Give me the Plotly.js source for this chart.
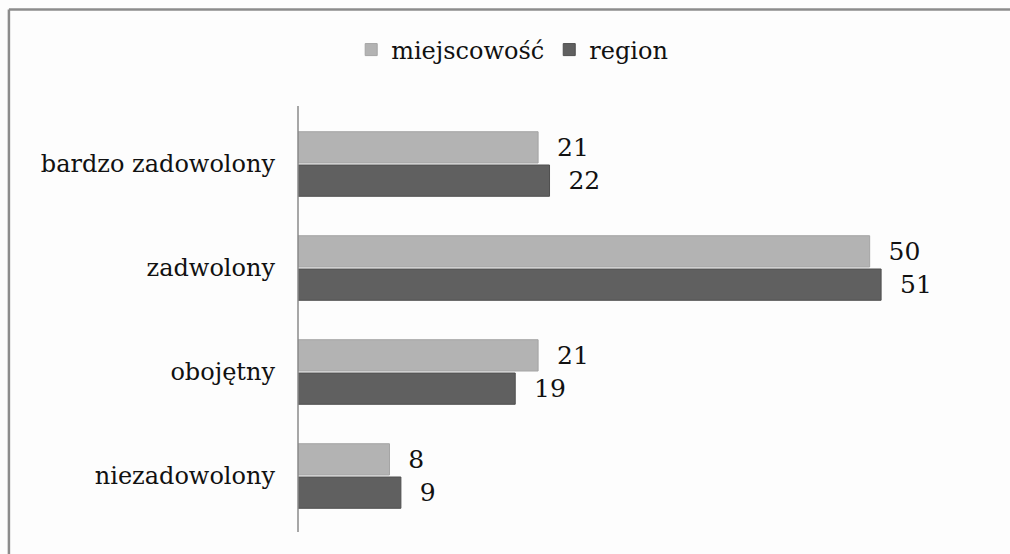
<!DOCTYPE html>
<html>
<head>
<meta charset="utf-8">
<script src="https://cdn.plot.ly/plotly-3.0.1.min.js"></script>
<style>
  html, body { margin: 0; padding: 0; background: #fdfdfd; }
  #chart { width: 1010px; height: 554px; }
</style>
</head>
<body>
<div id="chart"></div>
<script>
const categories = ['bardzo zadowolony', 'zadwolony', 'obojętny', 'niezadowolony'];
const seriesNames = ['miejscowość', 'region'];
const miejscowosc = [21, 50, 21, 8];
const region = [22, 51, 19, 9];

const W = 1010, H = 554;
const L = 297.5, R = 25.5, T = 112, B = 26;
const pw = W - L - R, ph = H - T - B;
const px2x = p => (p - L) / pw;
const px2y = p => (H - B - p) / ph;

const font = 'DejaVu Serif';

function barTrace(name, vals, fill, line) {
  return {
    type: 'bar',
    orientation: 'h',
    name: name,
    x: vals,
    y: categories,
    marker: { color: fill, line: { color: line, width: 1 } },
    text: vals.map(v => '\u00a0\u00a0' + v),
    textposition: 'outside',
    constraintext: 'none',
    cliponaxis: false,
    textfont: { family: font, size: 25, color: '#111' },
    hoverinfo: 'skip'
  };
}

const data = [
  barTrace(seriesNames[0], miejscowosc, '#b3b3b3', '#a4a4a4'),
  barTrace(seriesNames[1], region, '#606060', '#4f4f4f')
];

const layout = {
  width: W, height: H,
  margin: { l: L, r: R, t: T, b: B, pad: 0 },
  paper_bgcolor: '#fdfdfd',
  plot_bgcolor: '#fdfdfd',
  barmode: 'group',
  bargap: 0.36,
  bargroupgap: 0.06,
  font: { family: font, size: 24, color: '#111' },
  showlegend: true,
  legend: {
    orientation: 'h',
    x: px2x(512), xanchor: 'center',
    y: px2y(50), yanchor: 'middle',
    font: { family: font, size: 24, color: '#111' },
    bgcolor: 'rgba(0,0,0,0)',
    itemwidth: 30,
    traceorder: 'normal'
  },
  xaxis: {
    range: [0, 60],
    visible: false,
    showgrid: false,
    zeroline: false,
    fixedrange: true
  },
  yaxis: {
    type: 'category',
    autorange: 'reversed',
    showgrid: false,
    zeroline: false,
    showline: false,
    ticks: '',
    ticklabelstandoff: 22,
    tickfont: { family: font, size: 24, color: '#111' },
    fixedrange: true
  },
  shapes: [
    { type: 'line', xref: 'paper', yref: 'paper',
      x0: 0, x1: 0, y0: px2y(532), y1: px2y(106),
      line: { color: '#8a8a8a', width: 1.5 } },
    { type: 'line', xref: 'paper', yref: 'paper',
      x0: px2x(8), x1: px2x(1012), y0: px2y(9.5), y1: px2y(9.5),
      line: { color: '#8c8c8c', width: 2.5 } },
    { type: 'line', xref: 'paper', yref: 'paper',
      x0: px2x(8), x1: px2x(8), y0: px2y(9.5), y1: px2y(556),
      line: { color: '#8c8c8c', width: 2.5 } }
  ]
};

Plotly.newPlot('chart', data, layout, { displayModeBar: false, staticPlot: true });
</script>
</body>
</html>
